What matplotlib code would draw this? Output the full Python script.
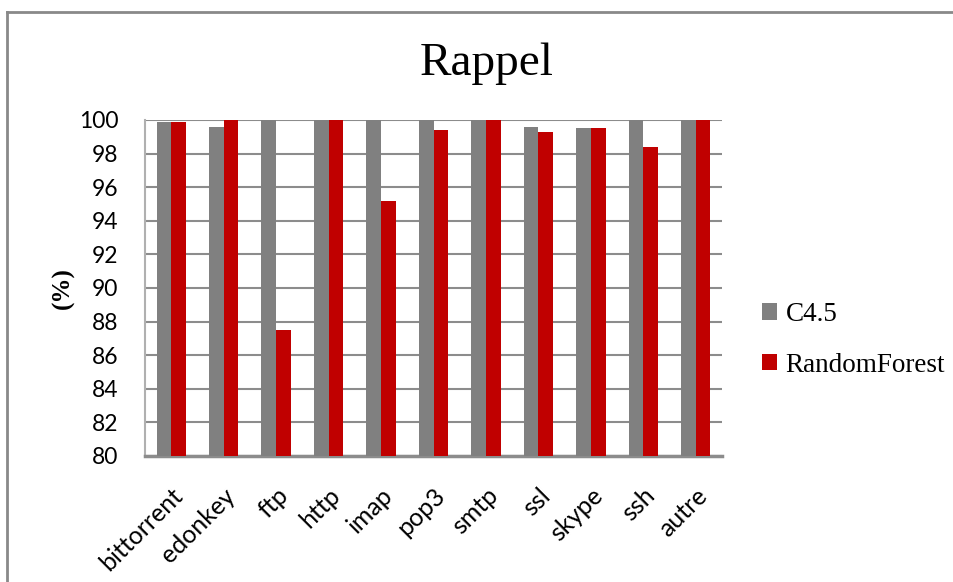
import matplotlib
matplotlib.use("Agg")
import matplotlib.pyplot as plt
import numpy as np
from matplotlib.lines import Line2D
from matplotlib.patches import Patch

categories = ["bittorrent", "edonkey", "ftp", "http", "imap", "pop3",
              "smtp", "ssl", "skype", "ssh", "autre"]
c45 = [99.9, 99.6, 100, 100, 100, 100, 100, 99.6, 99.5, 100, 100]
random_forest = [99.9, 100, 87.5, 100, 95.2, 99.4, 100, 99.3, 99.5, 98.4, 100]
y_ticks = list(range(80, 101, 2))

GRAY = "#808080"
RED = "#C00000"
GRID = "#8c8c8c"

fig = plt.figure(figsize=(9.54, 5.82), dpi=100)
ax = fig.add_axes([145 / 954, 1 - 456 / 582, (722 - 145) / 954, (456 - 120) / 582])

x = np.arange(len(categories))
w = 0.28
ax.bar(x - w / 2, c45, width=w, color=GRAY, zorder=3, label="C4.5")
ax.bar(x + w / 2, random_forest, width=w, color=RED, zorder=3, label="RandomForest")

ax.set_ylim(80, 100)
ax.set_xlim(-0.5, len(categories) - 0.5)
ax.set_yticks(y_ticks)
ax.set_yticklabels([str(v) for v in y_ticks], fontfamily="Lato", fontsize=16.5)
ax.yaxis.grid(True, color=GRID, linewidth=1.5, zorder=0)
ax.tick_params(axis="y", length=0, pad=19)
ax.tick_params(axis="x", length=0, pad=20)
ax.set_xticks(x)
ax.set_xticklabels(categories, rotation=45, ha="right", rotation_mode="anchor",
                   fontfamily="Lato", fontsize=18)

for side in ("top", "right"):
    ax.spines[side].set_visible(False)
ax.spines["left"].set_color("#b0b0b0")
ax.spines["left"].set_linewidth(1.5)
ax.spines["bottom"].set_color(GRID)
ax.spines["bottom"].set_linewidth(2.5)

ax.set_ylabel("(%)", fontfamily="Liberation Serif", fontweight="bold",
              fontsize=18, labelpad=3)

fig.text(487 / 954, 1 - 64 / 582, "Rappel", fontfamily="Liberation Serif",
         fontsize=34, ha="center", va="center")

handles = [Patch(facecolor=GRAY, edgecolor="none", label="C4.5"),
           Patch(facecolor=RED, edgecolor="none", label="RandomForest")]
fig.legend(handles=handles, loc="center left",
           bbox_to_anchor=(738 / 954, 1 - 340 / 582), frameon=False,
           prop={"family": "Liberation Serif", "size": 19.5},
           handlelength=0.55, handleheight=0.55, handletextpad=0.3,
           labelspacing=0.95)

# chart border (left and top edges)
fig.add_artist(Line2D([7 / 954, 7 / 954], [0, 1 - 12 / 582],
                      transform=fig.transFigure, color="#898989", linewidth=2))
fig.add_artist(Line2D([7 / 954, 1], [1 - 12 / 582, 1 - 12 / 582],
                      transform=fig.transFigure, color="#898989", linewidth=2))

fig.savefig("out.png", dpi=100)
